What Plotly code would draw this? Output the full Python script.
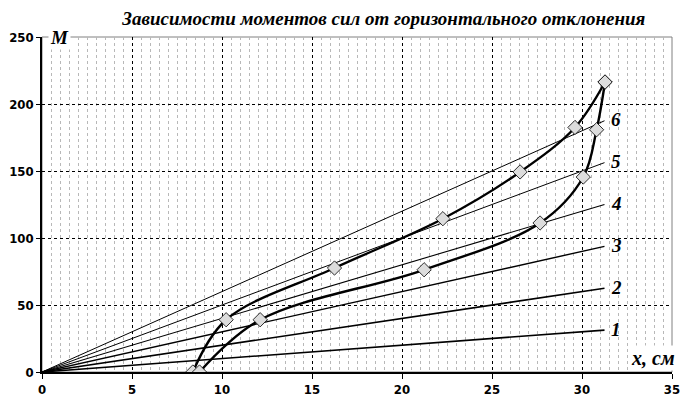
import plotly.graph_objects as go

# straight reference lines 1..6, all start at the origin
line_names = ["1", "2", "3", "4", "5", "6"]
line_x_end = 31.25
line_m_end = [31.25, 62.5, 93.75, 125, 156.25, 187.5]
line_widths = [1.6, 1.6, 1.4, 1.1, 1.0, 1.0]

# measured curves (diamond markers)
curve_a_x = [8.38, 10.23, 16.25, 22.27, 26.56, 29.61, 31.28]
curve_a_m = [0, 39.0, 77.6, 114.4, 149.3, 182.5, 216.4]
curve_b_x = [8.75, 12.12, 21.23, 27.67, 30.07, 30.81, 31.28]
curve_b_m = [0, 39.0, 76.3, 111.2, 145.5, 180.8, 216.4]

title_text = "Зависимости моментов сил от горизонтального отклонения"

serif = "Liberation Serif, Times New Roman, serif"
narrow = ("Liberation Sans Narrow, Arial Narrow, DejaVu Sans Condensed, "
          "Liberation Sans, sans-serif")

fig = go.Figure()

for name, m, w in zip(line_names, line_m_end, line_widths):
    fig.add_trace(go.Scatter(
        x=[0, line_x_end], y=[0, m], mode="lines",
        line=dict(color="black", width=w), hoverinfo="skip"))
    fig.add_annotation(
        x=line_x_end, y=m, text=name, showarrow=False,
        xanchor="left", xshift=4, yshift=1,
        font=dict(family=serif, size=19, color="black",
                  weight="bold", style="italic"))

for cx, cm in [(curve_a_x, curve_a_m), (curve_b_x, curve_b_m)]:
    fig.add_trace(go.Scatter(
        x=cx, y=cm, mode="lines+markers",
        line=dict(color="black", width=2.4, shape="spline", smoothing=1.0),
        marker=dict(symbol="diamond", size=11, color="#dcdcdc",
                    line=dict(color="black", width=0.8))))

# the page body has an 8px margin, so the figure is sized/offset to fit
fig.update_layout(
    width=682, height=401,
    margin=dict(l=34, r=18, t=29, b=37),
    paper_bgcolor="white", plot_bgcolor="white",
    showlegend=False,
    title=dict(text=title_text, x=0.551, xanchor="center", y=0.974,
               yanchor="middle",
               font=dict(family=serif, size=19, color="black",
                         weight="bold", style="italic")),
    xaxis=dict(range=[0, 35], dtick=5, tick0=0, automargin=False,
               showline=True, linecolor="black", linewidth=1.5,
               ticks="outside", ticklen=5, tickcolor="black",
               showgrid=True, gridcolor="black", gridwidth=1,
               griddash="3px,3px", zeroline=False,
               minor=dict(dtick=0.5, showgrid=True, gridcolor="#b8b8b8",
                          griddash="3px,3px", gridwidth=1),
               tickfont=dict(family=narrow, size=13, color="black",
                             weight="bold")),
    yaxis=dict(range=[0, 250], dtick=50, tick0=0, automargin=False,
               showline=True, linecolor="black", linewidth=1.5,
               ticks="outside", ticklen=4, tickcolor="black",
               showgrid=True, gridcolor="black", gridwidth=1,
               griddash="3px,3px", zeroline=False,
               tickfont=dict(family=narrow, size=13, color="black",
                             weight="bold")),
    shapes=[dict(type="rect", xref="paper", yref="paper",
                 x0=0, y0=0, x1=1, y1=1, layer="between",
                 line=dict(color="#808080", width=1))],
)

fig.add_annotation(
    xref="paper", yref="paper", x=0.009, y=1.0, text="M",
    showarrow=False, xanchor="left", yanchor="middle", bgcolor="white",
    font=dict(family=serif, size=19, color="black",
              weight="bold", style="italic"))
fig.add_annotation(
    xref="paper", yref="paper", x=1.008, y=0.043, text="x, см",
    showarrow=False, xanchor="right", yanchor="middle", bgcolor="white",
    font=dict(family=serif, size=20, color="black",
              weight="bold", style="italic"))

fig.write_html("out.html")
